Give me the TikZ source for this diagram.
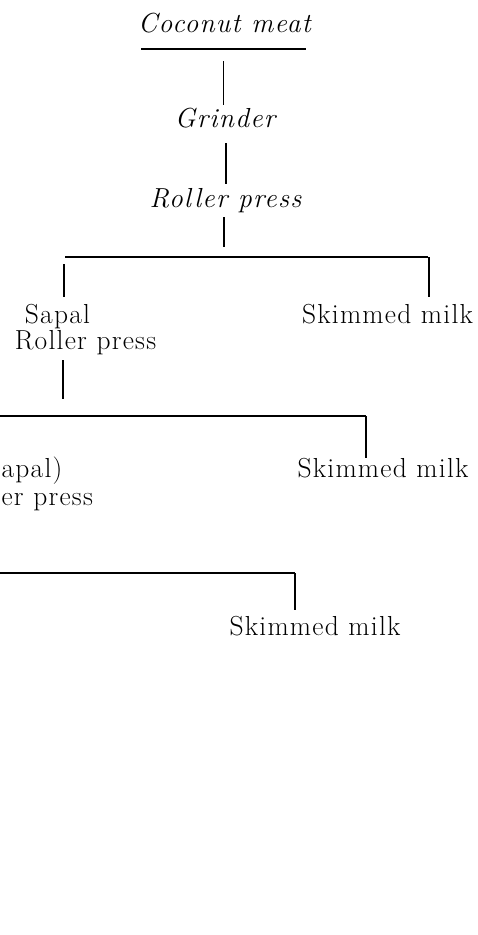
\documentclass[tikz,border=0pt]{standalone}
\usepackage{fontspec}
\setmainfont{Latin Modern Roman}[LetterSpace=4.5]
\begin{document}
\begin{tikzpicture}[x=1pt,y=-1pt,line width=1.2pt,
  lbl/.style={font=\fontsize{27.5}{33}\selectfont,inner sep=0pt,anchor=base},
  itl/.style={lbl,font=\fontsize{27.5}{33}\selectfont\itshape}]
\useasboundingbox (0,0) rectangle (477,935);

% process steps (italic)
\node[itl] (meat)  at (224.5,32)  {Coconut meat};
\node[itl] (grind) at (225,127)   {Grinder};
\node[itl] (press) at (225.5,207) {Roller press};

% first split
\node[lbl] (sapal1) at (57.5,323)  {Sapal};
\node[lbl] (rp1)    at (85.5,349)  {Roller press};
\node[lbl] (milk1)  at (387.5,323) {Skimmed milk};

% second split
\node[lbl,anchor=base west] (sapal2) at (1,477) {apal)};
\node[lbl,anchor=base west] (rp2)    at (1,505) {er press};
\node[lbl] (milk2) at (383,477) {Skimmed milk};

% third split
\node[lbl] (milk3) at (315,635) {Skimmed milk};

% junction points
\coordinate (ulA) at (141,49);   \coordinate (ulB) at (306,49);
\coordinate (c1a) at (223.5,61); \coordinate (c1b) at (223.5,105);
\coordinate (c2a) at (226,143);  \coordinate (c2b) at (226,184);
\coordinate (c3a) at (224,217);  \coordinate (c3b) at (224,247);
\coordinate (h1L) at (65,257);   \coordinate (h1R) at (428,257);
\coordinate (d1a) at (64,264);   \coordinate (d1b) at (64,297);
\coordinate (d2a) at (429,257);  \coordinate (d2b) at (429,297);
\coordinate (c4a) at (63,360);   \coordinate (c4b) at (63,399);
\coordinate (h2L) at (0,416);    \coordinate (h2R) at (366,416);
\coordinate (d3a) at (366,416);  \coordinate (d3b) at (366,458);
\coordinate (h3L) at (0,573);    \coordinate (h3R) at (295,573);
\coordinate (d4a) at (295,573);  \coordinate (d4b) at (295,610);

% connectors
\draw (ulA) -- (ulB);
\draw (c1a) -- (c1b);
\draw (c2a) -- (c2b);
\draw (c3a) -- (c3b);
\draw (h1L) -- (h1R);
\draw (d1a) -- (d1b);
\draw (d2a) -- (d2b);
\draw (c4a) -- (c4b);
\draw (h2L) -- (h2R);
\draw (d3a) -- (d3b);
\draw (h3L) -- (h3R);
\draw (d4a) -- (d4b);
\end{tikzpicture}
\end{document}
